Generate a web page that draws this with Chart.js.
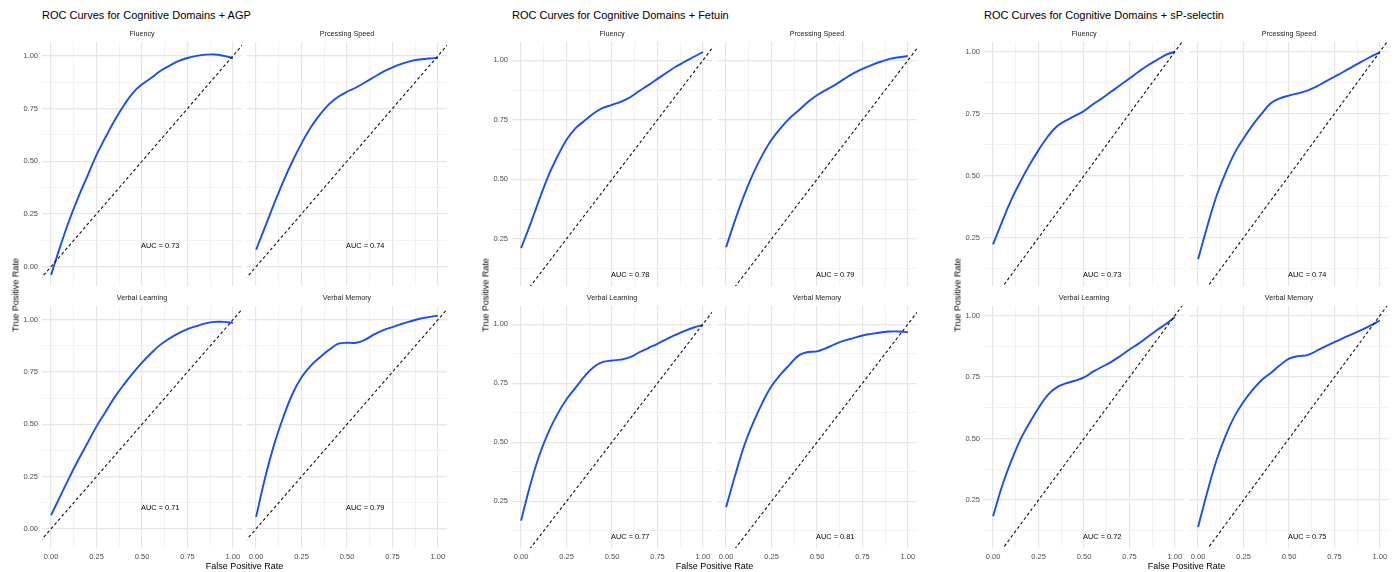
<!DOCTYPE html>
<html lang="en">
<head>
<meta charset="UTF-8">
<title>ROC Curves for Cognitive Domains</title>
<script src="https://cdn.jsdelivr.net/npm/chart.js"></script>
<style>
  body { margin: 0; background: #fff; }
  #wrap { position: relative; width: 1397px; height: 572px; font-family: "Liberation Sans", Arial, sans-serif; }
  #wrap canvas { position: absolute; }
  .title { position: absolute; font-size: 11px; color: #000; line-height: 1; white-space: nowrap; }
  .xlab { position: absolute; font-size: 9px; color: #000; line-height: 1; white-space: nowrap; transform: translateX(-50%); }
  .ylab { position: absolute; font-size: 9px; color: #000; line-height: 1; white-space: nowrap; transform: translate(-50%, -50%) rotate(-90deg); }
</style>
</head>
<body>
<div id="wrap"></div>

<script>
// false positive rate grid shared by every curve
const fpr = [0, 0.05, 0.1, 0.15, 0.2, 0.25, 0.3, 0.35, 0.4, 0.45, 0.5,
             0.55, 0.6, 0.65, 0.7, 0.75, 0.8, 0.85, 0.9, 0.95, 1];

const domains = ['Fluency', 'Prcessing Speed', 'Verbal Learning', 'Verbal Memory'];
const tickValues = [0, 0.25, 0.5, 0.75, 1];
const diagX = [-0.1, 1.1];

// + AGP
const agpFluency  = [-0.04, 0.095, 0.22, 0.33, 0.43, 0.53, 0.615, 0.695, 0.765, 0.825, 0.865, 0.895, 0.928, 0.953, 0.975, 0.99, 1.0, 1.006, 1.007, 1.0, 0.99];
const agpSpeed    = [0.08, 0.19, 0.30, 0.405, 0.50, 0.585, 0.66, 0.72, 0.77, 0.805, 0.83, 0.85, 0.875, 0.90, 0.925, 0.945, 0.962, 0.975, 0.983, 0.988, 0.99];
const agpLearning = [0.065, 0.155, 0.245, 0.33, 0.41, 0.49, 0.56, 0.63, 0.69, 0.745, 0.795, 0.84, 0.88, 0.91, 0.935, 0.955, 0.97, 0.983, 0.99, 0.99, 0.985];
const agpMemory   = [0.057, 0.245, 0.405, 0.535, 0.645, 0.725, 0.78, 0.82, 0.855, 0.885, 0.89, 0.89, 0.905, 0.93, 0.95, 0.965, 0.98, 0.993, 1.005, 1.013, 1.02];
const agpAuc = [0.73, 0.74, 0.71, 0.79];

// + Fetuin
const fetuinFluency  = [0.211, 0.31, 0.415, 0.515, 0.596, 0.666, 0.715, 0.747, 0.778, 0.80, 0.813, 0.827, 0.845, 0.871, 0.896, 0.922, 0.948, 0.973, 0.994, 1.015, 1.035];
const fetuinSpeed    = [0.215, 0.33, 0.435, 0.526, 0.603, 0.666, 0.715, 0.757, 0.79, 0.825, 0.853, 0.876, 0.897, 0.922, 0.945, 0.964, 0.98, 0.994, 1.006, 1.013, 1.018];
const fetuinLearning = [0.168, 0.318, 0.444, 0.542, 0.619, 0.682, 0.731, 0.78, 0.819, 0.84, 0.846, 0.85, 0.86, 0.881, 0.899, 0.917, 0.937, 0.955, 0.972, 0.986, 0.996];
const fetuinMemory   = [0.225, 0.36, 0.486, 0.584, 0.668, 0.738, 0.787, 0.829, 0.868, 0.882, 0.885, 0.899, 0.916, 0.93, 0.941, 0.952, 0.959, 0.965, 0.969, 0.969, 0.966];
const fetuinAuc = [0.78, 0.79, 0.77, 0.81];

// + sP-selectin
const selectinFluency  = [0.223, 0.315, 0.402, 0.476, 0.543, 0.603, 0.657, 0.698, 0.722, 0.741, 0.761, 0.788, 0.812, 0.839, 0.866, 0.892, 0.919, 0.944, 0.966, 0.987, 1.0];
const selectinSpeed    = [0.163, 0.294, 0.415, 0.509, 0.59, 0.65, 0.704, 0.75, 0.792, 0.812, 0.823, 0.832, 0.843, 0.859, 0.879, 0.899, 0.919, 0.94, 0.96, 0.98, 0.997];
const selectinLearning = [0.184, 0.308, 0.409, 0.496, 0.563, 0.624, 0.677, 0.708, 0.724, 0.735, 0.749, 0.772, 0.792, 0.812, 0.836, 0.862, 0.886, 0.913, 0.94, 0.966, 0.993];
const selectinMemory   = [0.14, 0.281, 0.409, 0.509, 0.59, 0.65, 0.698, 0.738, 0.767, 0.798, 0.825, 0.835, 0.839, 0.856, 0.875, 0.892, 0.909, 0.926, 0.942, 0.96, 0.98];
const selectinAuc = [0.73, 0.74, 0.72, 0.75];

// layout of the three faceted figures
const panels = [
    { title: 'ROC Curves for Cognitive Domains + AGP', left: 42, ymin: -0.092, ymax: 1.066,
      curves: [agpFluency, agpSpeed, agpLearning, agpMemory], auc: agpAuc },
    { title: 'ROC Curves for Cognitive Domains + Fetuin', left: 512, ymin: 0.052, ymax: 1.077,
      curves: [fetuinFluency, fetuinSpeed, fetuinLearning, fetuinMemory], auc: fetuinAuc },
    { title: 'ROC Curves for Cognitive Domains + sP-selectin', left: 984, ymin: 0.055, ymax: 1.039,
      curves: [selectinFluency, selectinSpeed, selectinLearning, selectinMemory], auc: selectinAuc }
];

const FACET_W = 200, FACET_GAP = 5;
const ROWS = [{ top: 42, h: 244 }, { top: 306, h: 242 }];
const ML = 34, MR = 14, MT = 16, MB = 18;
const FONT = '"Liberation Sans", Arial, sans-serif';

const isMajor = v => Math.abs(v * 4 - Math.round(v * 4)) < 1e-6;

function gridTicks(min, max) {
    const out = [];
    for (let i = -2; i <= 10; i++) {
        const v = i * 0.125;
        if (v >= min - 1e-9 && v <= max + 1e-9) out.push({ value: v });
    }
    return out;
}

const grid = {
    drawTicks: false,
    color: c => isMajor(c.tick.value) ? '#e6e6e6' : '#f0f0f0',
    lineWidth: c => isMajor(c.tick.value) ? 1.2 : 0.8
};

const facetText = {
    id: 'facetText',
    afterDatasetsDraw(chart, args, opts) {
        const { ctx, chartArea, scales } = chart;
        ctx.save();
        ctx.textAlign = 'center';
        ctx.textBaseline = 'middle';
        ctx.fillStyle = '#1a1a1a';
        ctx.font = '7.2px ' + FONT;
        ctx.fillText(opts.strip, (chartArea.left + chartArea.right) / 2, chartArea.top - 8);
        ctx.fillStyle = '#000';
        ctx.font = '7.4px ' + FONT;
        ctx.fillText('AUC = ' + opts.auc.toFixed(2), scales.x.getPixelForValue(0.6), scales.y.getPixelForValue(0.1));
        ctx.restore();
    }
};

const wrap = document.getElementById('wrap');

function addText(cls, text, x, y) {
    const d = document.createElement('div');
    d.className = cls;
    d.textContent = text;
    d.style.left = x + 'px';
    d.style.top = y + 'px';
    wrap.appendChild(d);
}

function makeFacet(panel, k) {
    const col = k % 2, row = Math.floor(k / 2);
    const px = panel.left + col * (FACET_W + FACET_GAP);
    const r = ROWS[row];
    const canvas = document.createElement('canvas');
    const w = ML + FACET_W + MR, h = MT + r.h + MB;
    canvas.width = w; canvas.height = h;
    canvas.style.left = (px - ML) + 'px';
    canvas.style.top = (r.top - MT) + 'px';
    canvas.style.width = w + 'px';
    canvas.style.height = h + 'px';
    wrap.appendChild(canvas);

    const tickFont = { family: FONT, size: 7.5 };
    new Chart(canvas, {
        type: 'line',
        data: {
            datasets: [{
                data: fpr.map((x, i) => ({ x: x, y: panel.curves[k][i] })),
                borderColor: '#1a4fe8',
                borderWidth: 1.9,
                pointRadius: 0,
                tension: 0.4,
                order: 1
            }, {
                data: diagX.map(x => ({ x: x, y: x })),
                borderColor: '#111',
                borderWidth: 1.1,
                borderDash: [3, 2.5],
                pointRadius: 0,
                order: 0
            }]
        },
        options: {
            responsive: false,
            animation: false,
            events: [],
            layout: { autoPadding: false, padding: { top: MT, right: MR, bottom: 0, left: 0 } },
            plugins: {
                legend: { display: false },
                tooltip: { enabled: false },
                facetText: { strip: domains[k], auc: panel.auc[k] }
            },
            scales: {
                x: {
                    type: 'linear',
                    min: -0.05, max: 1.05,
                    border: { display: false },
                    grid: grid,
                    afterBuildTicks: s => { s.ticks = gridTicks(s.min, s.max); },
                    afterFit: s => { s.height = MB; },
                    ticks: {
                        display: row === 1,
                        autoSkip: false,
                        maxRotation: 0,
                        padding: 4,
                        color: '#4d4d4d',
                        font: tickFont,
                        callback: v => tickValues.includes(v) ? v.toFixed(2) : ''
                    }
                },
                y: {
                    type: 'linear',
                    min: panel.ymin, max: panel.ymax,
                    border: { display: false },
                    grid: grid,
                    afterBuildTicks: s => { s.ticks = gridTicks(s.min, s.max); },
                    afterFit: s => { s.width = ML; },
                    ticks: {
                        display: col === 0,
                        autoSkip: false,
                        padding: 4,
                        color: '#4d4d4d',
                        font: tickFont,
                        callback: v => tickValues.includes(v) ? v.toFixed(2) : ''
                    }
                }
            }
        },
        plugins: [facetText]
    });
}

panels.forEach(panel => {
    addText('title', panel.title, panel.left, 10);
    for (let k = 0; k < 4; k++) makeFacet(panel, k);
    const mid = panel.left + FACET_W + FACET_GAP / 2;
    addText('xlab', 'False Positive Rate', mid, 562);
    addText('ylab', 'True Positive Rate', panel.left - 26, 295);
});
</script>
</body>
</html>
